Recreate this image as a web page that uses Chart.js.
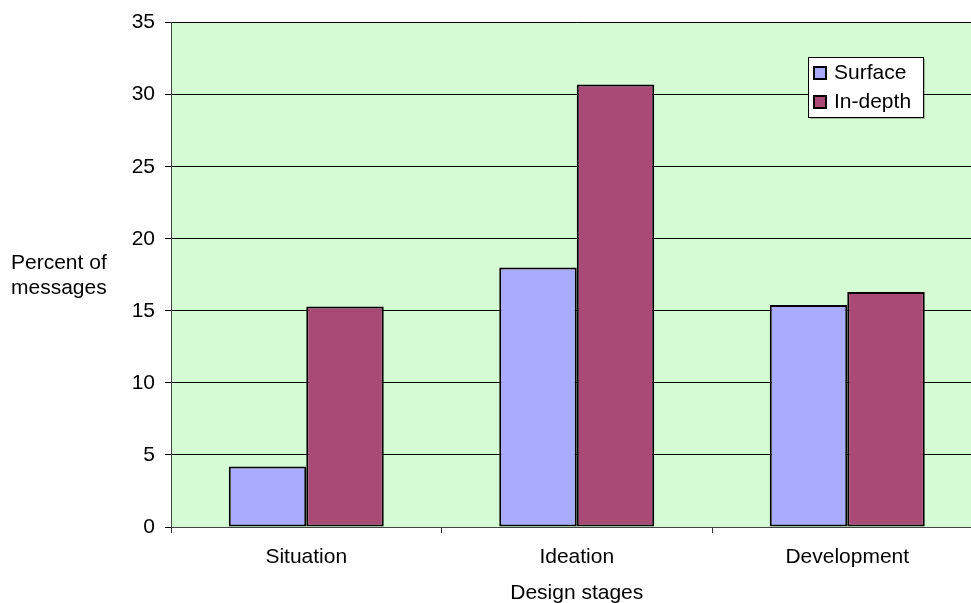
<!DOCTYPE html>
<html>
<head>
<meta charset="utf-8">
<script src="https://cdn.jsdelivr.net/npm/chart.js@4/dist/chart.umd.min.js"></script>
<style>
  html, body { margin: 0; padding: 0; background: #fff; overflow: hidden; }
  #wrap { width: 971px; height: 603px; overflow: hidden; position: relative; }
  #box { width: 984px; height: 603px; position: absolute; left: 0; top: 0; }
</style>
</head>
<body>
<div id="wrap"><div id="box"><canvas id="c" width="984" height="603"></canvas></div></div>
<script>
// Share of messages per design stage, split by depth of discussion
const stages = ['Situation', 'Ideation', 'Development'];
const surface = [4.2, 18.0, 15.4];
const inDepth = [15.3, 30.7, 16.3];
const seriesNames = ['Surface', 'In-depth'];
const yTitleLines = ['Percent of', 'messages'];
const xTitle = 'Design stages';

const FONT = 'Arial, "Liberation Sans", sans-serif';
const plotBg = '#D4FBD4';
const colSurface = '#A9ABFF';
const colInDepth = '#A94A76';

// Fill the plotting area with its pale green background
const plotBackground = {
  id: 'plotBackground',
  beforeDraw(chart) {
    const a = chart.chartArea, ctx = chart.ctx;
    ctx.save();
    ctx.fillStyle = plotBg;
    ctx.fillRect(a.left, a.top, a.right - a.left, a.bottom - a.top);
    ctx.restore();
  }
};

// Horizontal two-line axis caption to the left of the value axis
const sideCaption = {
  id: 'sideCaption',
  afterDraw(chart) {
    const ctx = chart.ctx;
    ctx.save();
    ctx.font = '21px ' + FONT;
    ctx.fillStyle = '#000';
    ctx.textAlign = 'left';
    ctx.textBaseline = 'middle';
    ctx.fillText(yTitleLines[0], 11, 263);
    ctx.fillText(yTitleLines[1], 11, 288);
    ctx.restore();
  }
};

// Boxed legend placed inside the plot, near the upper right
const boxLegend = {
  id: 'boxLegend',
  afterDraw(chart) {
    const ctx = chart.ctx;
    const x = 808, y = 57, w = 115, h = 60;
    ctx.save();
    ctx.fillStyle = 'rgba(0,0,0,0.25)';
    ctx.fillRect(x + 2, y + 2, w, h);
    ctx.fillStyle = '#fff';
    ctx.fillRect(x, y, w, h);
    ctx.strokeStyle = '#000';
    ctx.lineWidth = 1;
    ctx.strokeRect(x + 0.5, y + 0.5, w, h);
    ctx.font = '21px ' + FONT;
    ctx.textAlign = 'left';
    ctx.textBaseline = 'middle';
    chart.data.datasets.forEach((ds, i) => {
      const cy = y + 16 + i * 29;
      ctx.fillStyle = ds.backgroundColor;
      ctx.fillRect(814, cy - 6, 12, 12);
      ctx.lineWidth = 2;
      ctx.strokeStyle = '#000';
      ctx.strokeRect(814, cy - 6, 12, 12);
      ctx.fillStyle = '#000';
      ctx.fillText(ds.label, 834, cy);
    });
    ctx.restore();
  }
};

new Chart(document.getElementById('c'), {
  type: 'bar',
  data: {
    labels: stages,
    datasets: [
      { label: seriesNames[0], data: surface, backgroundColor: colSurface,
        borderColor: '#000', borderWidth: 2, borderSkipped: false },
      { label: seriesNames[1], data: inDepth, backgroundColor: colInDepth,
        borderColor: '#000', borderWidth: 2, borderSkipped: false }
    ]
  },
  options: {
    responsive: false,
    animation: false,
    devicePixelRatio: 1,
    layout: { padding: { left: 0, top: 21, right: 1.5, bottom: 0 } },
    plugins: {
      legend: { display: false },
      tooltip: { enabled: false },
      title: { display: false }
    },
    datasets: { bar: { categoryPercentage: 0.573, barPercentage: 1.0 } },
    scales: {
      x: {
        offset: true,
        grid: { offset: true, drawOnChartArea: false, drawTicks: true, tickLength: 6, color: '#333', lineWidth: 1 },
        border: { display: true, color: '#444', width: 1 },
        ticks: { color: '#000', font: { family: FONT, size: 21 }, padding: 12, maxRotation: 0 },
        title: { display: true, text: xTitle, color: '#000', font: { family: FONT, size: 21 }, padding: { top: 0, bottom: -3 } },
        afterFit(scale) { scale.height = 76; }
      },
      y: {
        min: 0, max: 35,
        ticks: { stepSize: 5, color: '#000', font: { family: FONT, size: 21 }, padding: 10 },
        grid: { color: '#000', lineWidth: 1, drawTicks: true, tickLength: 6 },
        border: { display: true, color: '#444', width: 1 },
        afterFit(scale) { scale.width = 171; }
      }
    }
  },
  plugins: [plotBackground, sideCaption, boxLegend]
});
</script>
</body>
</html>
